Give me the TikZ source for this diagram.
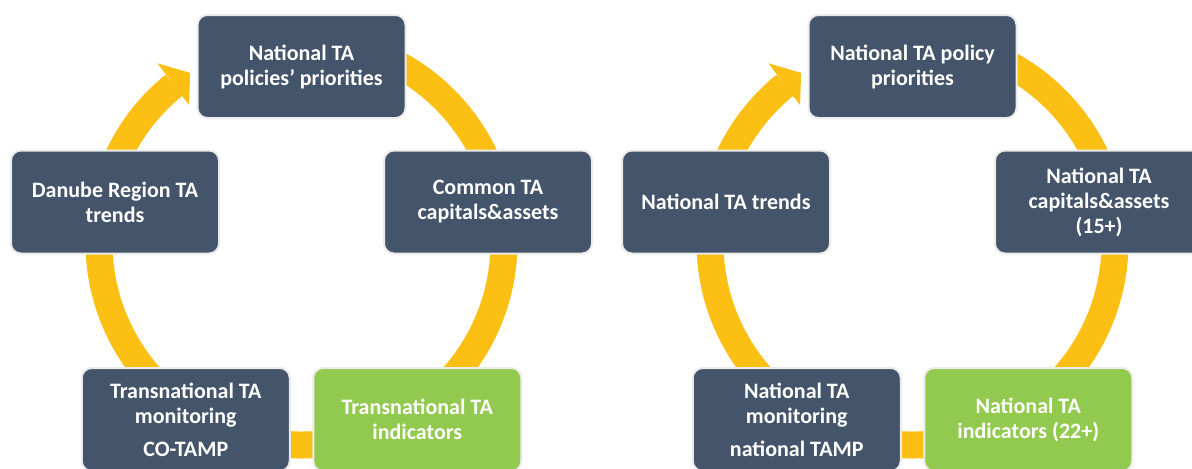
\documentclass[tikz,border=0pt]{standalone}
\usepackage{fontspec}
\setmainfont{Carlito}
\definecolor{slate}{HTML}{44546A}
\definecolor{leaf}{HTML}{92C94F}
\definecolor{gold}{HTML}{FCBF13}
\begin{document}
\begin{tikzpicture}[line cap=round,line join=round,x=0.5pt,y=0.5pt,
  box/.style={rectangle,rounded corners=5pt,fill=slate,draw=black!8,line width=1pt,minimum width=104pt,minimum height=51.5pt,inner sep=0pt,align=center,text=white,font=\bfseries\fontsize{11}{12.5}\selectfont},
  greenbox/.style={box,fill=leaf},
  ring/.style={draw=gold,line width=13.5pt,line cap=butt}]
\useasboundingbox (0,0) rectangle (1192,468);
\clip (0,0) rectangle (1192,468);
\coordinate (ctrA) at (301.5,225.5);
\coordinate (ctrB) at (912.5,225.5);
\draw [ring] (ctrA) ++(129:202.5) arc [start angle=129,end angle=475,radius=101.25pt];
\fill [gold,shift={(ctrA)}] (128.8:230) -- (123.3:203) -- (129.3:177.5) -- cycle;
\draw [ring] (ctrB) ++(129:202.5) arc [start angle=129,end angle=475,radius=101.25pt];
\fill [gold,shift={(ctrB)}] (128.8:230) -- (123.3:203) -- (129.3:177.5) -- cycle;
\node [box] (prioA) at (301.5,401.5) {National TA\\policies’ priorities};
\node [box] (trendA) at (115,266) {Danube Region TA\\trends};
\node [box] (capA) at (488,266) {Common TA\\capitals\&assets};
\node [box] (monA) at (185.75,48.5) {Transnational TA\\monitoring\\[4pt]CO-TAMP};
\node [greenbox] (indA) at (417.25,48.5) {Transnational TA\\indicators};
\node [box] (prioB) at (912.5,401.5) {National TA policy\\priorities};
\node [box] (trendB) at (726,266) {National TA trends};
\node [box] (capB) at (1099,266) {National TA\\capitals\&assets\\(15+)};
\node [box] (monB) at (796.75,48.5) {National TA\\monitoring\\[4pt]national TAMP};
\node [greenbox] (indB) at (1028.25,48.5) {National TA\\indicators (22+)};
\end{tikzpicture}
\end{document}
